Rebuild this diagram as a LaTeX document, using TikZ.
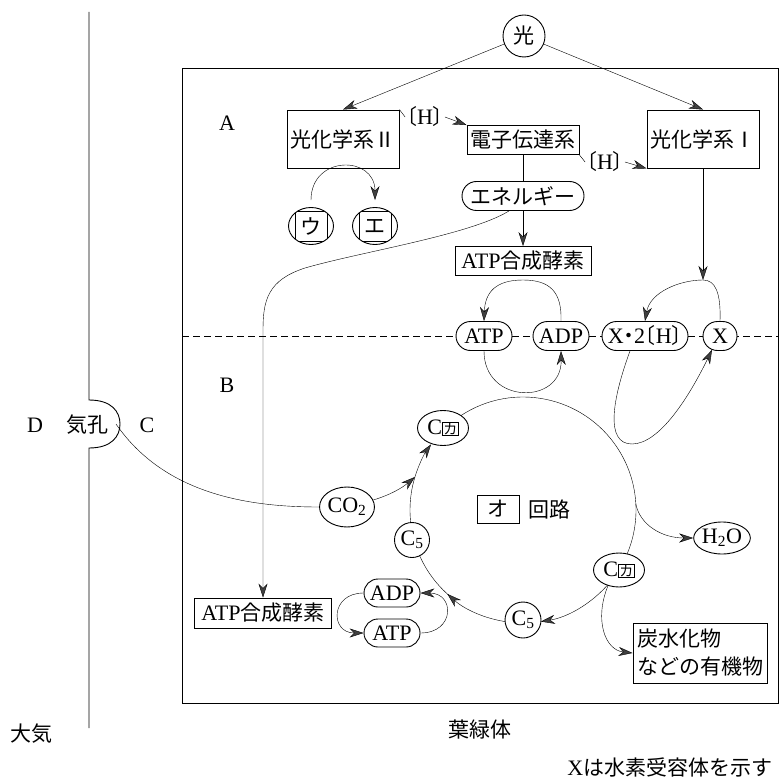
\documentclass[tikz,border=0pt]{standalone}
\usepackage{fontspec}
\setmainfont{Liberation Serif}[Scale=1.05]
\newfontfamily\jp{Noto Sans CJK JP}
\usetikzlibrary{arrows.meta,shapes.geometric,shapes.misc,calc}
\pgfdeclarelayer{bg}
\pgfsetlayers{bg,main}
\newcommand\J[1]{{\jp #1}}
\newcommand\kbox[1]{{\setlength\fboxsep{0.6pt}\setlength\fboxrule{0.8pt}\fbox{\fontsize{14}{14}\selectfont\jp #1}}}
\newcommand\bH{{\jp\kern-.5em 〔}H{\jp 〕\kern-.5em}}
\tikzset{
  box/.style={draw, rectangle, inner sep=2pt, fill=white},
  ell/.style={draw, ellipse, inner sep=0pt, fill=white},
  rnd/.style={draw, circle, inner sep=0pt, fill=white},
  pill/.style={draw, rounded rectangle, inner sep=0pt, minimum height=29, fill=white},
  lbl/.style={inner sep=1pt},
  arr/.style={-{Stealth[length=14pt,width=9pt,inset=4.5pt,fill=black!75]}},
  dashline/.style={dash pattern=on 7pt off 4pt}
}
\begin{document}
\fontsize{21}{25}\selectfont
\begin{tikzpicture}[x=1pt,y=-1pt,line width=0.9pt]
\useasboundingbox (0,0) rectangle (780,783);

% outer boundary (leaf surface) with stoma
\draw (89,12) -- (89,400) .. controls (112,400) and (120,412) .. (120,424)
      .. controls (120,436) and (112,448) .. (89,448) -- (89,728);
% chloroplast
\draw (182,68) rectangle (778,703);

% labels
\node (la) at (227,123) {A};
\node (lb) at (227,385) {B};
\node (ld) at (35,425) {D};
\node (lkiko) at (87,425) {\J{気孔}};
\node (lc) at (147,425) {C};
\node (ltaiki) at (31,734) {\J{大気}};
\node (lyoryoku) at (480,730) {\J{葉緑体}};
\node[anchor=east] (lnote) at (780,767) {X\J{は水素受容体を示す}};

% top part
\node[rnd, minimum size=42] (hikari) at (524,36) {\J{光}};
\node[box, minimum width=112, minimum height=58] (ps2) at (343,139) {\J{光化学系Ⅱ}};
\node[box, minimum width=112, minimum height=29] (etc) at (523,140) {\J{電子伝達系}};
\node[box, minimum width=112, minimum height=58] (ps1) at (703,139) {\J{光化学系Ⅰ}};
\node[lbl] (H1) at (425,117) {\bH};
\node[lbl] (H2) at (605,162) {\bH};
\node[pill, minimum width=122] (ene) at (523,196) {\J{エネルギー}};
\node[box, minimum width=136, minimum height=29] (atps1) at (523,261) {ATP\J{合成酵素}};
\node[ell, minimum width=45, minimum height=37] (u) at (311,226) {\J{ウ}};
\node[ell, minimum width=45, minimum height=37] (e) at (375,226) {\J{エ}};
\begin{scope}
  \clip (311,226) ellipse [x radius=22.5, y radius=18.5];
  \draw (295,211) rectangle (327,241);
\end{scope}
\begin{scope}
  \clip (375,226) ellipse [x radius=22.5, y radius=18.5];
  \draw (359,211) rectangle (391,241);
\end{scope}

% thylakoid line nodes
\node[pill, minimum width=56] (atp) at (484,336) {ATP};
\node[pill, minimum width=56] (adp) at (561,336) {ADP};
\node[pill, minimum width=86] (x2h) at (645,336) {X\J{\kern-.25em・\kern-.25em}2\bH};
\node[pill, minimum width=34] (xx) at (720,336) {X};

% stroma nodes
\node[ell, minimum width=45, minimum height=40] (co2) at (347,507) {CO\textsubscript{2}};
\node[ell, minimum width=51, minimum height=35] (cka1) at (443,428) {C\kbox{カ}};
\node[rnd, minimum size=35] (c5a) at (412,540) {C\textsubscript{5}};
\node[rnd, minimum size=36] (c5b) at (523,620) {C\textsubscript{5}};
\node[ell, minimum width=51, minimum height=34] (cka2) at (619,570) {C\kbox{カ}};
\node[ell, minimum width=44, minimum height=32] (h2o) at (722,538) {H\textsubscript{2}O};
\node[box, minimum width=42, minimum height=28, inner sep=0pt] (obox) at (498,509) {\J{オ}};
\node (lkairo) at (549,509) {\J{回路}};
\node[pill, minimum width=56, minimum height=28] (adp2) at (392,593) {ADP};
\node[pill, minimum width=56, minimum height=28] (atp2) at (392,633) {ATP};
\node[box, minimum width=137, minimum height=30] (atps2) at (263,613) {ATP\J{合成酵素}};
\node[box, minimum width=134, minimum height=60, align=left, inner sep=3pt,
      font=\fontsize{21}{28}\selectfont] (carb) at (700,653) {\J{炭水化物}\\\J{などの有機物}};

% coordinates
\coordinate (O) at (523,510);
\coordinate (mrg) at ($(O)+(197:113)$);
\coordinate (hs) at ($(O)+(-3:113)$);
\coordinate (apx) at (703,280);
\coordinate (apa) at (523,280);
\coordinate (stoma) at (116,424);

\begin{pgfonlayer}{bg}
  \draw[dashline] (182,336) -- (778,336);
  \draw ($(O)+(-126:113)$) arc[start angle=-126, end angle=25, radius=113];
  \draw[arr] ($(O)+(40:113)$) arc[start angle=40, end angle=80.9, radius=113];
  \draw[arr] ($(O)+(95:113)$) arc[start angle=95, end angle=132, radius=113];
  \draw ($(O)+(131:113)$) arc[start angle=131, end angle=197, radius=113];
  \draw[arr] (mrg) arc[start angle=197, end angle=215.5, radius=113];
\end{pgfonlayer}

% connectors top
\draw[arr] (hikari) -- (ps2.north);
\draw[arr] (hikari) -- (ps1.north);
\draw (ps2.north east) -- (H1.west);
\draw[arr] (H1.east) -- (etc.north west);
\draw (etc.south east) -- (H2.west);
\draw[arr] (H2.east) -- (ps1.south west);
\draw[arr, shorten <=7pt, shorten >=7pt] (u.north) .. controls (311,155) and (375,155) .. (e.north);
\draw (etc.south) -- (ene.north);
\draw[arr] (ene.south) -- (atps1.north);
\draw[arr] ($(ene.south)+(-14,0)$) .. controls (470,235) and (360,252) .. (305,268)
      .. controls (268,280) and (263,300) .. (263,330) -- (atps2.north);

% thylakoid cycles
\draw[arr] (adp.north) .. controls (562,292) and (550,280) .. (apa)
      .. controls (496,280) and (485,292) .. (atp.north);
\draw[arr] (atp.south) .. controls (484,405) and (562,405) .. (adp.south);
\draw[arr] (ps1.south) -- (apx);
\draw[arr] (xx.north) .. controls (721,292) and (715,280) .. (apx)
      .. controls (680,280) and (650,292) .. (x2h.north);
\draw[arr] ($(x2h.south)+(-15,0)$) .. controls (612,400) and (605,444) .. (632,444)
      .. controls (660,444) and (690,395) .. (xx.240);

% stroma connectors
\draw (stoma) .. controls (165,495) and (250,507) .. (co2.west);
\draw[arr] (co2.15) .. controls (390,495) and (402,488) .. (mrg);
\draw[arr] (hs) .. controls (640,525) and (662,538) .. (h2o.west);
\draw[arr] (cka2.235) .. controls (594,620) and (605,650) .. (carb.west);
\draw[arr] (adp2.west) .. controls (330,593) and (330,633) .. (atp2.west);
\draw[arr] (atp2.east) .. controls (455,633) and (455,593) .. (adp2.east);
\end{tikzpicture}
\end{document}
